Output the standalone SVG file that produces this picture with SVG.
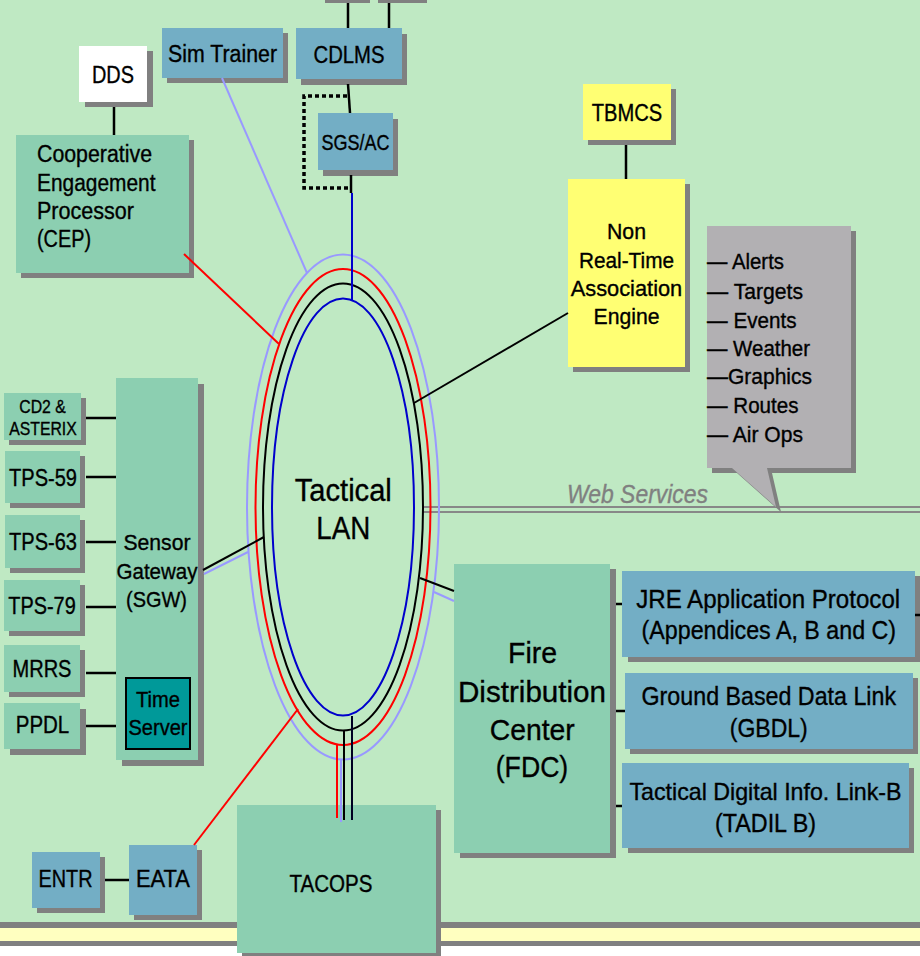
<svg xmlns="http://www.w3.org/2000/svg" width="920" height="956" viewBox="0 0 920 956">
<style>
.t{font-family:"Liberation Sans",Arial,sans-serif;fill:#000;stroke:#000;stroke-width:0.35px}
.ws{fill:#808080;stroke:#808080}
.c{text-anchor:middle}
.f23{font-size:23px}
.f22{font-size:22px}
.f18{font-size:18px}
.f21{font-size:21.5px}
.f25{font-size:25.5px}
.f30{font-size:30px}
.f31{font-size:31px}
.sh{fill:#808080}
.teal{fill:#8CCFB1}
.blue{fill:#73AEC5}
.yel{fill:#FFFF73}
.gry{fill:#B2B0B3}
.k{stroke:#000;stroke-width:2.5;fill:none}
.k2{stroke:#000;stroke-width:2;fill:none}
.r{stroke:#FF0000;stroke-width:2;fill:none}
.lb{stroke:#9999FF;stroke-width:2;fill:none}
.b{stroke:#0000CC;stroke-width:2;fill:none}
</style>
<defs></defs>
<!-- background -->
<rect x="0" y="0" width="920" height="956" fill="#FFFFFF"/>
<rect x="0" y="0" width="920" height="922" fill="#BFE9C3"/>
<rect x="0" y="922" width="920" height="6" fill="#808080"/>
<rect x="0" y="928" width="920" height="13" fill="#FFFFC0"/>
<rect x="0" y="941" width="920" height="5" fill="#808080"/>

<!-- web services bus -->
<g id="web-services">
<path d="M423,507 H920 M423,512 H920" stroke="#888888" stroke-width="2" fill="none"/>
<text class="t ws" x="567" y="503.3" font-size="25" font-style="italic" textLength="141" lengthAdjust="spacingAndGlyphs">Web Services</text>
</g>

<!-- nodes -->
<g id="top-box-1"><rect class="sh" x="325" y="-40" width="45" height="43"/><rect class="blue" x="320" y="-45" width="45" height="43"/></g>
<g id="top-box-2"><rect class="sh" x="378" y="-40" width="49" height="43"/><rect class="blue" x="373" y="-45" width="49" height="43"/></g>

<g id="dds"><rect class="sh" x="85" y="51" width="68" height="56"/><rect x="79" y="46" width="68" height="56" fill="#FFFFFF"/>
<text class="t c f23" x="113" y="83" textLength="42" lengthAdjust="spacingAndGlyphs">DDS</text></g>

<g id="sim-trainer"><rect class="sh" x="167" y="33" width="121" height="50"/><rect class="blue" x="162" y="28" width="121" height="50"/>
<text class="t c f23" x="222.5" y="62.3" textLength="109" lengthAdjust="spacingAndGlyphs">Sim Trainer</text></g>

<g id="cdlms"><rect class="sh" x="301" y="34" width="106" height="51"/><rect class="blue" x="296" y="28" width="106" height="51"/>
<text class="t c f23" x="349" y="62.5" textLength="71" lengthAdjust="spacingAndGlyphs">CDLMS</text></g>

<g id="sgs-ac"><rect class="sh" x="323" y="119" width="75" height="57"/><rect class="blue" x="318" y="113" width="75" height="57"/>
<text class="t c f22" x="355.5" y="150" textLength="68" lengthAdjust="spacingAndGlyphs">SGS/AC</text></g>

<g id="cep"><rect class="sh" x="21" y="140" width="173" height="138"/><rect class="teal" x="16" y="135" width="173" height="138"/>
<text class="t f23" x="37" y="162.3" textLength="115" lengthAdjust="spacingAndGlyphs">Cooperative</text>
<text class="t f23" x="37" y="190.7" textLength="118.5" lengthAdjust="spacingAndGlyphs">Engagement</text>
<text class="t f23" x="37" y="219.3" textLength="97" lengthAdjust="spacingAndGlyphs">Processor</text>
<text class="t f23" x="37" y="247.3" textLength="54" lengthAdjust="spacingAndGlyphs">(CEP)</text></g>

<g id="tbmcs"><rect class="sh" x="588" y="89" width="88" height="56"/><rect class="yel" x="583" y="84" width="88" height="56"/>
<text class="t c f23" x="627" y="120.7" textLength="70.5" lengthAdjust="spacingAndGlyphs">TBMCS</text></g>

<g id="nrtae"><rect class="sh" x="573" y="184" width="117" height="188"/><rect class="yel" x="568" y="179" width="117" height="188"/>
<text class="t c f22" x="626.5" y="239" textLength="39" lengthAdjust="spacingAndGlyphs">Non</text>
<text class="t c f22" x="626.5" y="267.7" textLength="95" lengthAdjust="spacingAndGlyphs">Real-Time</text>
<text class="t c f22" x="626.5" y="296" textLength="111.5" lengthAdjust="spacingAndGlyphs">Association</text>
<text class="t c f22" x="626.5" y="324.3" textLength="66" lengthAdjust="spacingAndGlyphs">Engine</text></g>

<g id="callout"><path class="sh" d="M712,231 H856 V473 H772 L781,512 L737,473 H712 Z"/><path class="gry" d="M707,226 H851 V468 H767 L776,507 L732,468 H707 Z"/>
<text class="t f21" x="707" y="269.3" textLength="77" lengthAdjust="spacingAndGlyphs">— Alerts</text>
<text class="t f21" x="707" y="298.7" textLength="96" lengthAdjust="spacingAndGlyphs">— Targets</text>
<text class="t f21" x="707" y="327.7" textLength="89.5" lengthAdjust="spacingAndGlyphs">— Events</text>
<text class="t f21" x="707" y="356" textLength="103" lengthAdjust="spacingAndGlyphs">— Weather</text>
<text class="t f21" x="707" y="384.3" textLength="105" lengthAdjust="spacingAndGlyphs">—Graphics</text>
<text class="t f21" x="707" y="413.3" textLength="91.5" lengthAdjust="spacingAndGlyphs">— Routes</text>
<text class="t f21" x="707" y="441.7" textLength="96" lengthAdjust="spacingAndGlyphs">— Air Ops</text></g>

<g id="cd2-asterix"><rect class="sh" x="9" y="398" width="77" height="47"/><rect class="teal" x="4" y="393" width="77" height="47"/>
<text class="t c f18" x="42.5" y="413.3" textLength="46.5" lengthAdjust="spacingAndGlyphs">CD2 &amp;</text>
<text class="t c f18" x="43" y="435" textLength="67.5" lengthAdjust="spacingAndGlyphs">ASTERIX</text></g>

<g id="tps-59"><rect class="sh" x="10" y="456" width="75" height="52"/><rect class="teal" x="5" y="451" width="75" height="52"/>
<text class="t c f23" x="43" y="485.7" textLength="68" lengthAdjust="spacingAndGlyphs">TPS-59</text></g>

<g id="tps-63"><rect class="sh" x="10" y="520" width="75" height="53"/><rect class="teal" x="5" y="515" width="75" height="53"/>
<text class="t c f23" x="43" y="550" textLength="68" lengthAdjust="spacingAndGlyphs">TPS-63</text></g>

<g id="tps-79"><rect class="sh" x="9" y="585" width="76" height="51"/><rect class="teal" x="4" y="580" width="76" height="51"/>
<text class="t c f23" x="42" y="614.3" textLength="67.5" lengthAdjust="spacingAndGlyphs">TPS-79</text></g>

<g id="mrrs"><rect class="sh" x="9" y="650" width="76" height="47"/><rect class="teal" x="4" y="645" width="76" height="47"/>
<text class="t c f23" x="42" y="676.7" textLength="59" lengthAdjust="spacingAndGlyphs">MRRS</text></g>

<g id="ppdl"><rect class="sh" x="10" y="709" width="76" height="46"/><rect class="teal" x="4" y="703" width="76" height="46"/>
<text class="t c f23" x="42.5" y="733.3" textLength="53.5" lengthAdjust="spacingAndGlyphs">PPDL</text></g>

<g id="sgw"><rect class="sh" x="122" y="384" width="82" height="382"/><rect class="teal" x="116" y="378" width="82" height="382"/>
<text class="t c f22" x="157" y="550" textLength="67" lengthAdjust="spacingAndGlyphs">Sensor</text>
<text class="t c f22" x="157" y="578.5" textLength="81" lengthAdjust="spacingAndGlyphs">Gateway</text>
<text class="t c f22" x="156.5" y="606.5" textLength="61" lengthAdjust="spacingAndGlyphs">(SGW)</text></g>

<g id="time-server"><rect x="126" y="678" width="64" height="71" fill="#009999" stroke="#000" stroke-width="2"/>
<text class="t c f22" x="158" y="707.3" textLength="44" lengthAdjust="spacingAndGlyphs">Time</text>
<text class="t c f22" x="158" y="735" textLength="59" lengthAdjust="spacingAndGlyphs">Server</text></g>

<g id="entr"><rect class="sh" x="37" y="857" width="68" height="56"/><rect class="blue" x="32" y="852" width="68" height="56"/>
<text class="t c f23" x="65.5" y="887.3" textLength="54" lengthAdjust="spacingAndGlyphs">ENTR</text></g>

<g id="eata"><rect class="sh" x="134" y="850" width="68" height="70"/><rect class="blue" x="129" y="845" width="68" height="70"/>
<text class="t c f23" x="163" y="887.3" textLength="54" lengthAdjust="spacingAndGlyphs">EATA</text></g>

<g id="tacops"><rect class="sh" x="242" y="810" width="199" height="148"/><rect class="teal" x="237" y="805" width="199" height="148"/>
<text class="t c f23" x="331" y="891.7" textLength="83" lengthAdjust="spacingAndGlyphs">TACOPS</text></g>

<g id="fdc"><rect class="sh" x="460" y="569" width="156" height="289"/><rect class="teal" x="454" y="564" width="156" height="289"/>
<text class="t c f30" x="532.5" y="662.7" textLength="49" lengthAdjust="spacingAndGlyphs">Fire</text>
<text class="t c f30" x="532" y="701.7" textLength="148" lengthAdjust="spacingAndGlyphs">Distribution</text>
<text class="t c f30" x="532.3" y="740" textLength="85" lengthAdjust="spacingAndGlyphs">Center</text>
<text class="t c f30" x="532" y="777" textLength="72.5" lengthAdjust="spacingAndGlyphs">(FDC)</text></g>

<g id="jre"><rect class="sh" x="628" y="576" width="292" height="86"/><rect class="blue" x="622" y="571" width="293" height="86"/>
<text class="t c f25" x="768.2" y="607.7" textLength="264" lengthAdjust="spacingAndGlyphs">JRE Application Protocol</text>
<text class="t c f25" x="768.8" y="639.3" textLength="254.5" lengthAdjust="spacingAndGlyphs">(Appendices A, B and C)</text></g>

<g id="gbdl"><rect class="sh" x="630" y="678" width="288" height="76"/><rect class="blue" x="625" y="673" width="288" height="76"/>
<text class="t c f25" x="768.8" y="705" textLength="254.5" lengthAdjust="spacingAndGlyphs">Ground Based Data Link</text>
<text class="t c f25" x="768.8" y="736.7" textLength="78" lengthAdjust="spacingAndGlyphs">(GBDL)</text></g>

<g id="tadil-b"><rect class="sh" x="628" y="768" width="286" height="85"/><rect class="blue" x="622" y="763" width="287" height="85"/>
<text class="t c" font-size="24" x="765.5" y="800" textLength="272" lengthAdjust="spacingAndGlyphs">Tactical Digital Info. Link-B</text>
<text class="t c f25" x="765.5" y="831.5" textLength="101" lengthAdjust="spacingAndGlyphs">(TADIL B)</text></g>

<g id="tactical-lan">
<ellipse class="lb" cx="343" cy="507" rx="96" ry="252.5"/>
<ellipse class="r" cx="343" cy="507" rx="87.5" ry="238"/>
<ellipse class="k2" cx="343" cy="507" rx="80" ry="223.5"/>
<ellipse class="b" cx="343" cy="507" rx="71" ry="208.5"/>
<text class="t c f31" x="343.3" y="500.7" textLength="97" lengthAdjust="spacingAndGlyphs">Tactical</text>
<text class="t c f31" x="343.3" y="539.3" textLength="54" lengthAdjust="spacingAndGlyphs">LAN</text>
</g>

<!-- connectors -->
<g id="connectors">
<path class="k" d="M348,3 V28 M389,3 V28"/>
<path class="k" d="M114,107 V135"/>
<path class="lb" d="M222,78 L307,273"/>
<path class="k" d="M348,84 L350,113"/>
<path d="M347,96 H304 V188 H350" stroke="#000" stroke-width="3.5" stroke-dasharray="4 3" fill="none"/>
<path class="k" d="M351,175 V193"/>
<path class="b" d="M352,193 V300"/>
<path class="r" d="M184,254 L279,344"/>
<path class="k" d="M626,145 V179"/>
<path class="k2" d="M568,313 L414,403"/>
<path class="k" d="M86,418 H116 M86,477 H116 M86,542 H116 M86,607 H116 M86,673 H116 M86,726 H116"/>
<path class="k2" d="M203,570 L264,537"/>
<path class="lb" d="M204,574 L248,552"/>
<path class="k2" d="M454,591 L420,578"/>
<path class="lb" d="M454,601 L434,592"/>
<path class="k" d="M616,604 H622 M616,711 H625 M616,806 H622 M915,615 H920"/>
<path class="r" d="M194,845 L298,709"/>
<path class="k" d="M105,880 H129"/>
<path class="r" d="M337,744 V818"/>
<path class="lb" d="M341,759 V822"/>
<path class="k2" d="M344,730 V820"/>
<path d="M352,716 V820" stroke="#000022" stroke-width="2" fill="none"/>
</g>
</svg>
